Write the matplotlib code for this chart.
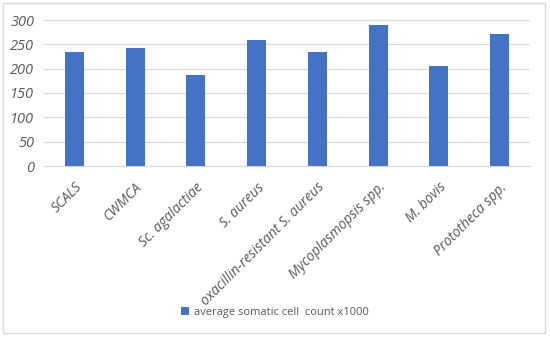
import matplotlib
matplotlib.use('Agg')
import matplotlib.pyplot as plt
from matplotlib.patches import Rectangle

categories = ['SCALS', 'CWMCA', 'Sc. agalactiae', 'S. aureus',
              'oxacillin-resistant S. aureus', 'Mycoplasmopsis spp.',
              'M. bovis', 'Prototheca spp.']
scc = [234, 243, 186, 258, 235, 289, 205, 272]
yticks = [0, 50, 100, 150, 200, 250, 300]

plt.rcParams['font.family'] = ['Open Sans', 'DejaVu Sans']
txt = '#595959'

fig = plt.figure(figsize=(5.5, 3.38), dpi=100)
ax = fig.add_axes([44 / 550, 1 - 166 / 338, 486 / 550, 146 / 338])

ax.bar(range(len(categories)), scc, width=0.31, color='#4472C4',
       label='average somatic cell  count x1000', zorder=3)

ax.set_xlim(-0.5, len(categories) - 0.5)
ax.set_ylim(0, 300)
ax.set_yticks(yticks)
ax.set_yticklabels([str(v) for v in yticks], fontsize=10.5, color=txt, style='italic')
ax.set_xticks(range(len(categories)))
ax.set_xticklabels(categories, rotation=45, ha='right', rotation_mode='anchor',
                   fontsize=10, color=txt, style='italic')
ax.tick_params(axis='x', length=0, pad=10)
ax.tick_params(axis='y', length=0, pad=7)
ax.grid(axis='y', color='#D9D9D9', linewidth=0.9, zorder=0)
for s in ['top', 'right', 'left']:
    ax.spines[s].set_visible(False)
ax.spines['bottom'].set_color('#D9D9D9')

leg = fig.legend(loc='center', bbox_to_anchor=(0.5, 1 - 312 / 338), frameon=False,
                 fontsize=8, handlelength=0.7, handleheight=0.7, handletextpad=0.4)
for t in leg.get_texts():
    t.set_color(txt)

fig.patches.append(Rectangle((3 / 550, 5 / 338), 542 / 550, 330 / 338,
                             transform=fig.transFigure, fill=False,
                             edgecolor='#D9D9D9', linewidth=1))

fig.savefig('out.png', dpi=100)
